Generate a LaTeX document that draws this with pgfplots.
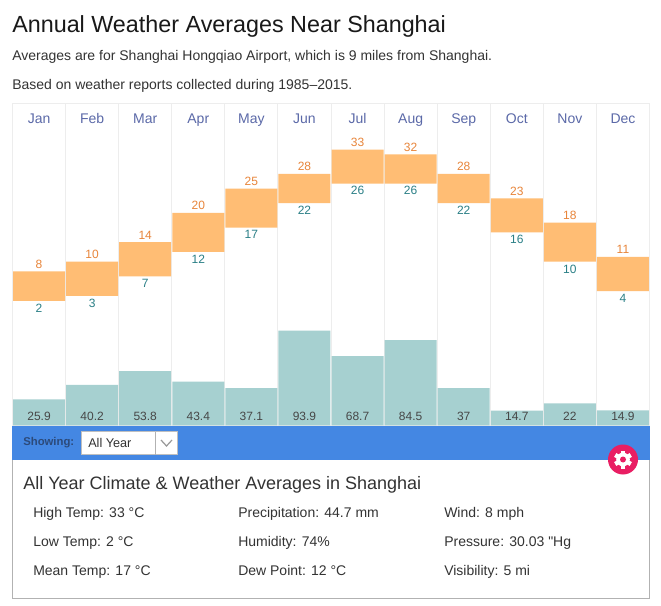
\documentclass[border=0pt]{standalone}
\usepackage{pgfplots}
\pgfplotsset{compat=1.18}
\usepackage{pgfplotstable}
\usepackage{fontspec}
\setmainfont{Liberation Sans}
\newfontfamily\plainf{Liberation Sans}
\definecolor{gridc}{HTML}{EDEDED}
\definecolor{orangebar}{HTML}{FFBD74}
\definecolor{orangetxt}{HTML}{E8853A}
\definecolor{tealbar}{HTML}{A6D0D0}
\definecolor{tealtxt}{HTML}{2A7F86}
\definecolor{month}{HTML}{5B69A8}
\definecolor{band}{HTML}{4487E3}
\definecolor{pink}{HTML}{E91E63}
\definecolor{ink}{HTML}{333333}
\definecolor{showing}{HTML}{2C4A7A}
\pgfplotstableread{
x low high precip
0.5 2 8 25.9
1.5 3 10 40.2
2.5 7 14 53.8
3.5 12 20 43.4
4.5 17 25 37.1
5.5 22 28 93.9
6.5 26 33 68.7
7.5 26 32 84.5
8.5 22 28 37
9.5 16 23 14.7
10.5 10 18 22
11.5 4 11 14.9
}\climate
\pgfplotsset{base/.style={
  at={(9.375pt,-319.125pt)}, anchor=south west, scale only axis,
  width=477.75pt, height=241.5pt,
  xmin=0, xmax=12, ytick=\empty,
  /pgf/number format/assume math mode=true,
}}
\begin{document}
\begin{tikzpicture}
\path[fill=white] (0pt,0pt) rectangle (495.75pt,-454.5pt);
% precipitation
\begin{axis}[base, ymin=0, ymax=318.8,
  axis line style={gridc},
  xtick={0.5,1.5,...,11.5},
  xticklabels={Jan,Feb,Mar,Apr,May,Jun,Jul,Aug,Sep,Oct,Nov,Dec},
  xticklabel pos=upper, major tick length=0pt,
  xticklabel style={font=\fontsize{10.5}{12}\selectfont, text=month, text height=8pt, text depth=2.2pt, yshift=-21pt},
  minor xtick={0,...,12}, xminorgrids, minor tick length=0pt,
  minor grid style={gridc, line width=0.75pt},
  /pgf/number format/fixed, /pgf/number format/precision=1]
\addplot[ybar, bar width=0.98, fill=tealbar, draw=none] table[x=x,y=precip]{\climate};
\addplot[draw=none, mark=none, nodes near coords, point meta=\thisrow{precip},
  every node near coord/.style={anchor=center, inner sep=0pt, text=ink!90, font=\fontsize{9}{11}\selectfont}]
  table[x=x,y expr=9]{\climate};
\end{axis}
% temperature range
\begin{axis}[base, ymin=-23.56, ymax=42.43, axis lines=none, xtick=\empty,
  ybar stacked, bar width=0.98]
\addplot[fill=none, draw=none] table[x=x,y=low]{\climate};
\addplot[fill=orangebar, draw=none] table[x=x,y expr=\thisrow{high}-\thisrow{low}]{\climate};
\end{axis}
% temperature labels
\begin{axis}[base, ymin=-23.56, ymax=42.43, axis lines=none, xtick=\empty,
  /pgf/number format/fixed, /pgf/number format/precision=0]
\addplot[draw=none, mark=none, nodes near coords, point meta=\thisrow{low},
  every node near coord/.style={anchor=north, inner sep=0pt, yshift=-2pt, text=tealtxt, font=\fontsize{9}{11}\selectfont}]
  table[x=x,y=low]{\climate};
\addplot[draw=none, mark=none, nodes near coords, point meta=\thisrow{high},
  every node near coord/.style={anchor=south, inner sep=0pt, yshift=2pt, text=orangetxt, font=\fontsize{9}{11}\selectfont}]
  table[x=x,y=high]{\climate};
\end{axis}
\begin{scope}[x=0.75pt,y=0.75pt]
% headings
\node[anchor=base west, inner sep=0, text=black!90, font=\fontsize{17.5}{20}\selectfont] at (12,-33) {Annual Weather Averages Near Shanghai};
\node[anchor=base west, inner sep=0, text=ink, font=\fontsize{10.5}{12}\selectfont] at (12,-61) {Averages are for Shanghai Hongqiao Airport, which is 9 miles from Shanghai.};
\node[anchor=base west, inner sep=0, text=ink, font=\fontsize{10.5}{12}\selectfont] at (12,-90) {Based on weather reports collected during 1985–2015.};
% band and panel
\draw[draw=black!30, line width=0.75pt] (12.5,-460) -- (12.5,-598.5) -- (649.5,-598.5) -- (649.5,-460);
\fill[band] (12,-426) rectangle (650,-460);
\node[anchor=base west, inner sep=0, text=showing, font=\bfseries\fontsize{8.5}{10}\selectfont] at (23,-445) {Showing:};
\fill[white, draw=black!25] (81.5,-431.5) rectangle (177.5,-454.5);
\draw[black!30] (155.5,-431.5) -- (155.5,-454.5);
\draw[black!40, line width=0.9pt] (161,-440) -- (166.5,-446) -- (172,-440);
\node[anchor=base west, inner sep=0, text=ink, font=\fontsize{9.5}{11}\selectfont] at (88,-447) {All Year};
\fill[pink] (623,-459.5) circle (15);
\foreach \a in {0,60,...,300}{\fill[white, rotate around={\a:(623,-459.5)}] (620.8,-450.5) rectangle (625.2,-455);}
\fill[white] (623,-459.5) circle (6.8);
\fill[pink] (623,-459.5) circle (3);
\node[anchor=base west, inner sep=0, text=ink, font=\fontsize{13.5}{16}\selectfont] at (23,-489) {All Year Climate \& Weather Averages in Shanghai};
\foreach \x/\y/\t in {
 33/517/{High Temp: 33 °C}, 33/546/{Low Temp: 2 °C}, 33/575/{Mean Temp: 17 °C},
 238/517/{Precipitation: 44.7 mm}, 238/546/{Humidity: 74\%}, 238/575/{Dew Point: 12 °C},
 444/517/{Wind: 8 mph}, 444/546/{Pressure: 30.03 {\plainf "}Hg}, 444/575/{Visibility: 5 mi}}
 {\node[anchor=base west, inner sep=0, text=ink, font=\fontsize{10.5}{12}\selectfont] at (\x,-\y) {\t};}
\end{scope}
\end{tikzpicture}
\end{document}
